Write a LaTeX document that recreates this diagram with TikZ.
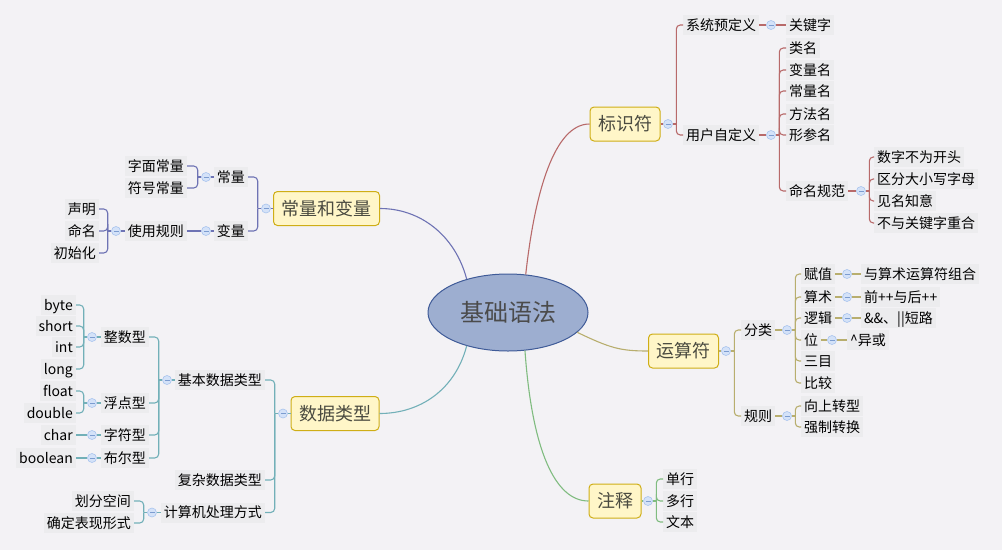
\documentclass[tikz,border=0pt]{standalone}
\usepackage{fontspec}
\setmainfont{Noto Sans CJK SC}
\usepackage{xcolor}
\usepackage{tikz}
\usetikzlibrary{shapes.geometric}
\definecolor{canvas}{HTML}{F3F2F5}
\definecolor{rootfill}{HTML}{9DAED0}
\definecolor{rootedge}{HTML}{3F5B98}
\definecolor{topicfill}{HTML}{FFF6C8}
\definecolor{topicedge}{HTML}{CFAE16}
\definecolor{topictext}{HTML}{4A4A40}
\definecolor{darktext}{HTML}{4B4B4B}
\definecolor{leaffill}{HTML}{ECECEE}
\definecolor{markfill}{HTML}{D4E2F8}
\definecolor{markedge}{HTML}{A8C4EE}
\definecolor{markline}{HTML}{7C9CD0}
\definecolor{idred}{HTML}{B86A6A}
\definecolor{cvblue}{HTML}{6E73B4}
\definecolor{dtteal}{HTML}{72B0B8}
\definecolor{opolive}{HTML}{B8AE6E}
\definecolor{cmgreen}{HTML}{80BC80}
\tikzset{
  rootnode/.style={
    ellipse, draw=rootedge, fill=rootfill, line width=1pt,
    minimum width=160pt, minimum height=77pt, inner sep=0pt,
    font=\fontsize{24}{28}\selectfont, text=darktext,
    text height=21pt, text depth=3pt
  },
  topicbox/.style={
    rectangle, rounded corners=4pt, draw=topicedge, fill=topicfill,
    line width=1pt, minimum height=34pt, inner xsep=8pt,
    font=\fontsize{18}{22}\selectfont, text=topictext,
    text height=15.8pt, text depth=2.2pt
  },
  leafbox/.style={
    rectangle, fill=leaffill, inner xsep=3pt, inner ysep=3pt,
    font=\fontsize{14}{17}\selectfont,
    text height=12.3pt, text depth=1.7pt
  },
  foldmark/.style={
    circle, draw=markedge, fill=markfill, line width=0.6pt,
    minimum size=9pt, inner sep=0pt,
    path picture={\draw[markline, line width=0.7pt]
      ([xshift=-2.5pt]path picture bounding box.center) --
      ([xshift=2.5pt]path picture bounding box.center);}
  },
  branch/.style={draw=#1, line width=1.1pt, rounded corners=4pt},
}

\begin{document}
\begin{tikzpicture}[x=1pt, y=-1pt]
\fill[canvas] (0,0) rectangle (1002,550);
\useasboundingbox (0,0) rectangle (1002,550);

% centre and main topics
\node[rootnode] (root) at (508,312.5) {基础语法};
\node[topicbox] (id) at (625,124) {标识符};
\node[topicbox] (cv) at (326.5,208.5) {常量和变量};
\node[topicbox] (dt) at (335,413.5) {数据类型};
\node[topicbox] (op) at (683.5,351) {运算符};
\node[topicbox] (cm) at (615,501) {注释};

\node[foldmark] (idm) at (668,124) {};
\node[foldmark] (cvm) at (266,208.5) {};
\node[foldmark] (dtm) at (283,413.5) {};
\node[foldmark] (opm) at (726,351) {};
\node[foldmark] (cmm) at (648,501) {};

\draw[branch=idred] (root.65) .. controls (535,190) and (555,124) .. (id.west);
\draw[branch=cvblue] (root.141) .. controls (455,235) and (420,208.5) .. (cv.east);
\draw[branch=dtteal] (root.219) .. controls (455,390) and (420,413.5) .. (dt.east);
\draw[branch=opolive] (root.344) .. controls (610,348) and (620,351) .. (op.west);
\draw[branch=cmgreen] (root.294) .. controls (532,450) and (555,501) .. (cm.west);

% identifiers
\node[leafbox, anchor=west] (sys) at (683,25) {系统预定义};
\node[leafbox, anchor=west] (usr) at (683,135) {用户自定义};
\node[foldmark] (sysm) at (771,25) {};
\node[leafbox, anchor=west] (kw) at (786,25) {关键字};
\node[foldmark] (usrm) at (771,135) {};
\node[leafbox, anchor=west] (cls) at (786,48) {类名};
\node[leafbox, anchor=west] (vnm) at (786,70) {变量名};
\node[leafbox, anchor=west] (cnm) at (786,91) {常量名};
\node[leafbox, anchor=west] (mnm) at (786,114) {方法名};
\node[leafbox, anchor=west] (pnm) at (786,135) {形参名};
\node[leafbox, anchor=west] (rule) at (786,191) {命名规范};
\node[foldmark] (rulem) at (861,191) {};
\node[leafbox, anchor=west] (r1) at (874,157) {数字不为开头};
\node[leafbox, anchor=west] (r2) at (874,179) {区分大小写字母};
\node[leafbox, anchor=west] (r3) at (874,201) {见名知意};
\node[leafbox, anchor=west] (r4) at (874,223) {不与关键字重合};

\draw[branch=idred] (id) -- (idm);
\draw[branch=idred] (idm.east) -- ++(3.5,0) coordinate (idb);
\foreach \c in {sys,usr} \draw[branch=idred] (idb) |- (\c.west);
\draw[branch=idred] (sys) -- (sysm);
\draw[branch=idred] (sysm) -- (kw);
\draw[branch=idred] (usr) -- (usrm);
\draw[branch=idred] (usrm.east) -- ++(3.5,0) coordinate (usrb);
\foreach \c in {cls,vnm,cnm,mnm,pnm,rule} \draw[branch=idred] (usrb) |- (\c.west);
\draw[branch=idred] (rule) -- (rulem);
\draw[branch=idred] (rulem.east) -- ++(3.5,0) coordinate (ruleb);
\foreach \c in {r1,r2,r3,r4} \draw[branch=idred] (ruleb) |- (\c.west);

% operators
\node[leafbox, anchor=west] (cat) at (741,330) {分类};
\node[leafbox, anchor=west] (rul) at (741,416) {规则};
\node[foldmark] (catm) at (787,330) {};
\node[leafbox, anchor=west] (asg) at (801,274) {赋值};
\node[leafbox, anchor=west] (ari) at (801,297) {算术};
\node[leafbox, anchor=west] (lgc) at (801,318) {逻辑};
\node[leafbox, anchor=west] (bit) at (801,340) {位};
\node[leafbox, anchor=west] (ter) at (801,361) {三目};
\node[leafbox, anchor=west] (cmp) at (801,383) {比较};
\node[foldmark] (asgm) at (847,274) {};
\node[leafbox, anchor=west] (asgx) at (861,274) {与算术运算符组合};
\node[foldmark] (arim) at (847,297) {};
\node[leafbox, anchor=west] (arix) at (861,297) {前++与后++};
\node[foldmark] (lgcm) at (847,318) {};
\node[leafbox, anchor=west] (lgcx) at (861,318) {\&\&、||短路};
\node[foldmark] (bitm) at (832,340) {};
\node[leafbox, anchor=west] (bitx) at (847,340) {\textasciicircum{}异或};
\node[foldmark] (rulm) at (787,416) {};
\node[leafbox, anchor=west] (upc) at (801,406) {向上转型};
\node[leafbox, anchor=west] (cast) at (801,427) {强制转换};

\draw[branch=opolive] (op) -- (opm);
\draw[branch=opolive] (opm.east) -- ++(3.5,0) coordinate (opb);
\foreach \c in {cat,rul} \draw[branch=opolive] (opb) |- (\c.west);
\draw[branch=opolive] (cat) -- (catm);
\draw[branch=opolive] (catm.east) -- ++(3.5,0) coordinate (catb);
\foreach \c in {asg,ari,lgc,bit,ter,cmp} \draw[branch=opolive] (catb) |- (\c.west);
\foreach \c in {asg,ari,lgc,bit} {
  \draw[branch=opolive] (\c) -- (\c m);
  \draw[branch=opolive] (\c m) -- (\c x);
}
\draw[branch=opolive] (rul) -- (rulm);
\draw[branch=opolive] (rulm.east) -- ++(3.5,0) coordinate (rulb);
\foreach \c in {upc,cast} \draw[branch=opolive] (rulb) |- (\c.west);

% comments
\node[leafbox, anchor=west] (one) at (663,479) {单行};
\node[leafbox, anchor=west] (multi) at (663,501) {多行};
\node[leafbox, anchor=west] (doc) at (663,522) {文本};
\draw[branch=cmgreen] (cm) -- (cmm);
\draw[branch=cmgreen] (cmm.east) -- ++(3.5,0) coordinate (cmb);
\foreach \c in {one,multi,doc} \draw[branch=cmgreen] (cmb) |- (\c.west);

% constants and variables
\node[leafbox, anchor=east] (cst) at (248,177) {常量};
\node[leafbox, anchor=east] (var) at (248,231) {变量};
\node[foldmark] (cstm) at (206,177) {};
\node[leafbox, anchor=east] (lit) at (187,166) {字面常量};
\node[leafbox, anchor=east] (sym) at (187,188) {符号常量};
\node[foldmark] (varm) at (206,231) {};
\node[leafbox, anchor=east] (use) at (187,231) {使用规则};
\node[foldmark] (usem) at (116,231) {};
\node[leafbox, anchor=east] (decl) at (99,209) {声明};
\node[leafbox, anchor=east] (nme) at (99,231) {命名};
\node[leafbox, anchor=east] (init) at (99,253) {初始化};

\draw[branch=cvblue] (cv) -- (cvm);
\draw[branch=cvblue] (cvm.west) -- ++(-3.5,0) coordinate (cvb);
\foreach \c in {cst,var} \draw[branch=cvblue] (cvb) |- (\c.east);
\draw[branch=cvblue] (cst) -- (cstm);
\draw[branch=cvblue] (cstm.west) -- ++(-3.5,0) coordinate (cstb);
\foreach \c in {lit,sym} \draw[branch=cvblue] (cstb) |- (\c.east);
\draw[branch=cvblue] (var) -- (varm);
\draw[branch=cvblue] (varm) -- (use);
\draw[branch=cvblue] (use) -- (usem);
\draw[branch=cvblue] (usem.west) -- ++(-3.5,0) coordinate (useb);
\foreach \c in {decl,nme,init} \draw[branch=cvblue] (useb) |- (\c.east);

% data types
\node[leafbox, anchor=east] (basic) at (265,380) {基本数据类型};
\node[leafbox, anchor=east] (cplx) at (265,480) {复杂数据类型};
\node[leafbox, anchor=east] (calc) at (265,512.5) {计算机处理方式};
\node[foldmark] (basm) at (167,380) {};
\node[leafbox, anchor=east] (intt) at (149,337) {整数型};
\node[leafbox, anchor=east] (flt) at (149,403) {浮点型};
\node[leafbox, anchor=east] (chr) at (149,435) {字符型};
\node[leafbox, anchor=east] (bln) at (149,458) {布尔型};
\node[foldmark] (inttm) at (92,337) {};
\node[leafbox, anchor=east] (byt) at (76,305) {byte};
\node[leafbox, anchor=east] (sht) at (76,326) {short};
\node[leafbox, anchor=east] (itg) at (76,347) {int};
\node[leafbox, anchor=east] (lng) at (76,369) {long};
\node[foldmark] (fltm) at (92,403) {};
\node[leafbox, anchor=east] (fl) at (76,391) {float};
\node[leafbox, anchor=east] (dbl) at (76,413) {double};
\node[foldmark] (chrm) at (92,435) {};
\node[leafbox, anchor=east] (chrx) at (76,435) {char};
\node[foldmark] (blnm) at (92,458) {};
\node[leafbox, anchor=east] (blnx) at (76,458) {boolean};
\node[foldmark] (calcm) at (152,512.5) {};
\node[leafbox, anchor=east] (spc) at (134,501) {划分空间};
\node[leafbox, anchor=east] (frm) at (134,523) {确定表现形式};

\draw[branch=dtteal] (dt) -- (dtm);
\draw[branch=dtteal] (dtm.west) -- ++(-3.5,0) coordinate (dtb);
\foreach \c in {basic,cplx,calc} \draw[branch=dtteal] (dtb) |- (\c.east);
\draw[branch=dtteal] (basic) -- (basm);
\draw[branch=dtteal] (basm.west) -- ++(-3.5,0) coordinate (basb);
\foreach \c in {intt,flt,chr,bln} \draw[branch=dtteal] (basb) |- (\c.east);
\draw[branch=dtteal] (intt) -- (inttm);
\draw[branch=dtteal] (inttm.west) -- ++(-3.5,0) coordinate (inttb);
\foreach \c in {byt,sht,itg,lng} \draw[branch=dtteal] (inttb) |- (\c.east);
\draw[branch=dtteal] (flt) -- (fltm);
\draw[branch=dtteal] (fltm.west) -- ++(-3.5,0) coordinate (fltb);
\foreach \c in {fl,dbl} \draw[branch=dtteal] (fltb) |- (\c.east);
\foreach \c in {chr,bln} {
  \draw[branch=dtteal] (\c) -- (\c m);
  \draw[branch=dtteal] (\c m) -- (\c x);
}
\draw[branch=dtteal] (calc) -- (calcm);
\draw[branch=dtteal] (calcm.west) -- ++(-3.5,0) coordinate (calcb);
\foreach \c in {spc,frm} \draw[branch=dtteal] (calcb) |- (\c.east);
\end{tikzpicture}
\end{document}
